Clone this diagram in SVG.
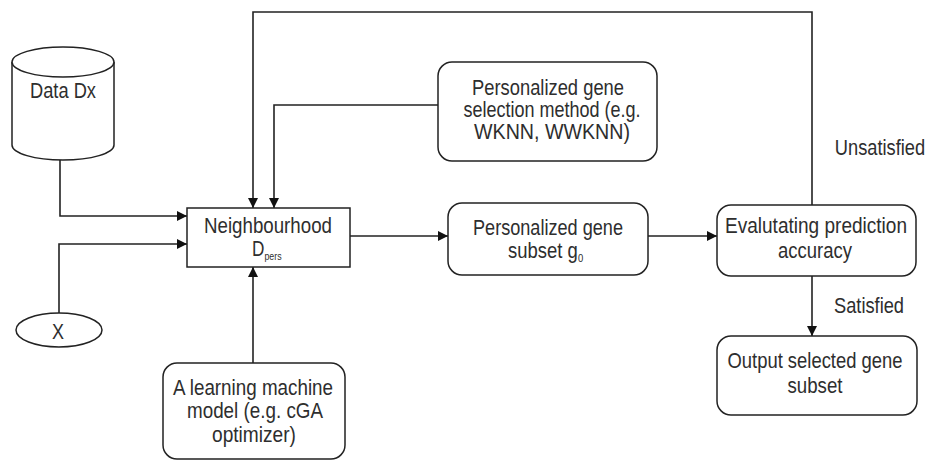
<svg xmlns="http://www.w3.org/2000/svg" width="931" height="461" viewBox="0 0 931 461">
  <style>
    .shape { fill: #ffffff; stroke: #222222; stroke-width: 1.5; }
    .wire { fill: none; stroke: #222222; stroke-width: 1.6; }
    .lbl { font-family: "Liberation Sans", Arial, sans-serif; font-size: 21.5px; fill: #2e2e2e; text-anchor: middle; }
    .start { text-anchor: start; }
    .sub { font-size: 11px; }
  </style>
  <defs>
    <marker id="arrow" viewBox="0 0 10 10" refX="10" refY="5" markerWidth="10" markerHeight="10" markerUnits="userSpaceOnUse" orient="auto">
      <path d="M0,0 L10,5 L0,10 Z" fill="#111111"/>
    </marker>
  </defs>

  <rect width="931" height="461" fill="#ffffff"/>

  <!-- connectors -->
  <g id="connectors">
    <path class="wire" d="M60 160 V216 H187" marker-end="url(#arrow)"/>
    <path class="wire" d="M59 313 V244 H187" marker-end="url(#arrow)"/>
    <path class="wire" d="M812 205 V12 H253 V208" marker-end="url(#arrow)"/>
    <path class="wire" d="M438 105 H274 V208" marker-end="url(#arrow)"/>
    <path class="wire" d="M253 363 V267" marker-end="url(#arrow)"/>
    <path class="wire" d="M350 236 H448" marker-end="url(#arrow)"/>
    <path class="wire" d="M648 236 H717" marker-end="url(#arrow)"/>
    <path class="wire" d="M812 276 V336" marker-end="url(#arrow)"/>
    <text class="lbl" transform="translate(880 155) scale(0.85 1)">Unsatisfied</text>
    <text class="lbl" x="869" y="313" textLength="70" lengthAdjust="spacingAndGlyphs">Satisfied</text>
  </g>

  <!-- data store -->
  <g id="data">
    <path class="shape" d="M12 62 V145 A51 15 0 0 0 114 145 V62"/>
    <ellipse class="shape" cx="63" cy="62" rx="51" ry="15"/>
    <text class="lbl" x="63" y="98" textLength="66" lengthAdjust="spacingAndGlyphs">Data Dx</text>
  </g>

  <!-- query sample -->
  <g id="x">
    <ellipse class="shape" cx="59" cy="330" rx="43" ry="17"/>
    <text class="lbl" x="58" y="339" textLength="12" lengthAdjust="spacingAndGlyphs">X</text>
  </g>

  <!-- neighbourhood -->
  <g id="neighbourhood">
    <rect class="shape" x="187" y="208" width="163" height="59"/>
    <text class="lbl" x="268" y="233" textLength="128" lengthAdjust="spacingAndGlyphs">Neighbourhood</text>
    <text class="lbl start" transform="translate(252 256) scale(0.8 1)">D<tspan class="sub" dy="4">pers</tspan></text>
  </g>

  <!-- selection method -->
  <g id="method">
    <rect class="shape" x="438" y="62" width="219" height="99" rx="14"/>
    <text class="lbl" x="548" y="95" textLength="152" lengthAdjust="spacingAndGlyphs">Personalized gene</text>
    <text class="lbl" x="552" y="117" textLength="177" lengthAdjust="spacingAndGlyphs">selection method (e.g.</text>
    <text class="lbl" x="552" y="139" textLength="156" lengthAdjust="spacingAndGlyphs">WKNN, WWKNN)</text>
  </g>

  <!-- learning model -->
  <g id="learner">
    <rect class="shape" x="163" y="363" width="182" height="96" rx="14"/>
    <text class="lbl" x="253" y="395" textLength="160" lengthAdjust="spacingAndGlyphs">A learning machine</text>
    <text class="lbl" x="255" y="418" textLength="136" lengthAdjust="spacingAndGlyphs">model (e.g. cGA</text>
    <text class="lbl" x="254" y="442" textLength="84" lengthAdjust="spacingAndGlyphs">optimizer)</text>
  </g>

  <!-- gene subset -->
  <g id="subset">
    <rect class="shape" x="448" y="203" width="200" height="72" rx="14"/>
    <text class="lbl" x="548" y="235" textLength="150" lengthAdjust="spacingAndGlyphs">Personalized gene</text>
    <text class="lbl start" transform="translate(508 258) scale(0.86 1)">subset g<tspan class="sub" dy="4">0</tspan></text>
  </g>

  <!-- evaluation -->
  <g id="evaluate">
    <rect class="shape" x="717" y="205" width="199" height="71" rx="14"/>
    <text class="lbl" x="816" y="233" textLength="182" lengthAdjust="spacingAndGlyphs">Evalutating prediction</text>
    <text class="lbl" x="815" y="258" textLength="74" lengthAdjust="spacingAndGlyphs">accuracy</text>
  </g>

  <!-- output -->
  <g id="output">
    <rect class="shape" x="717" y="336" width="200" height="79" rx="14"/>
    <text class="lbl" x="815" y="368" textLength="175" lengthAdjust="spacingAndGlyphs">Output selected gene</text>
    <text class="lbl" x="815" y="393" textLength="55" lengthAdjust="spacingAndGlyphs">subset</text>
  </g>
</svg>
